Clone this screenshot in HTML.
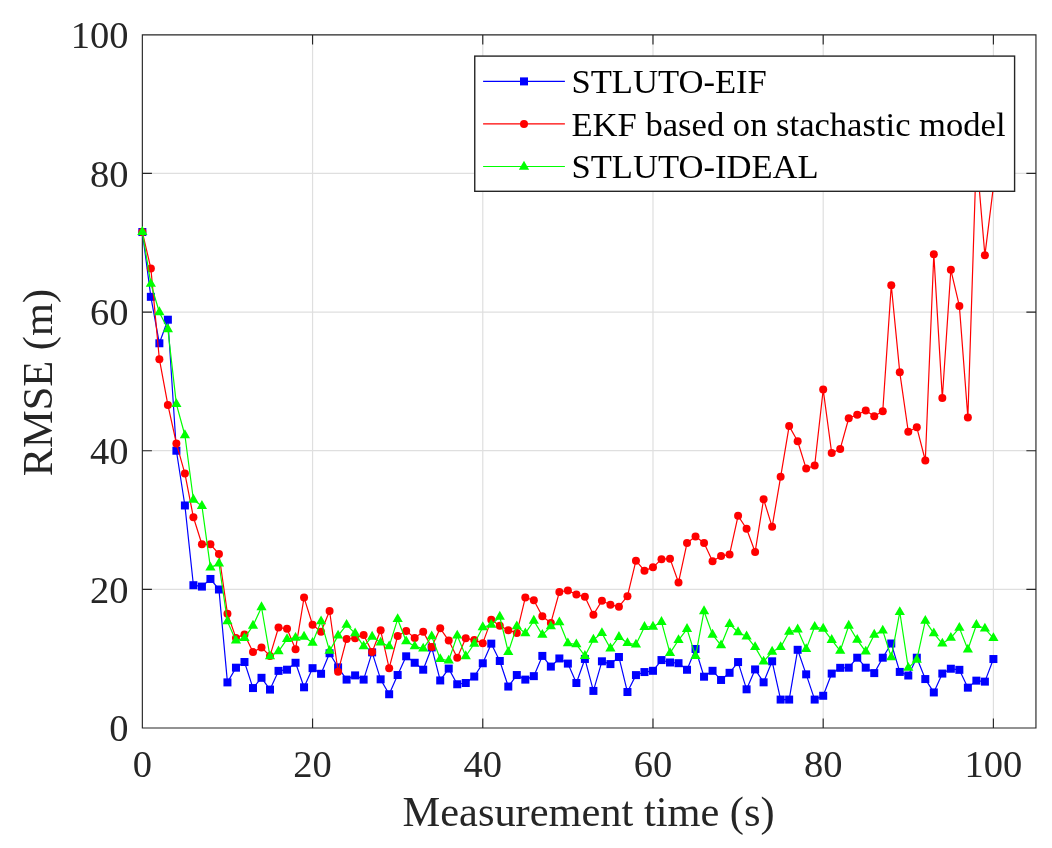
<!DOCTYPE html>
<html><head><meta charset="utf-8"><title>RMSE chart</title>
<style>html,body{margin:0;padding:0;background:#fff;}svg{display:block;will-change:transform;}text{font-family:"Liberation Serif",serif;}</style>
</head><body>
<svg width="1052" height="848" viewBox="0 0 1052 848">
<defs><clipPath id="cp"><rect x="142.35" y="34.8" width="893.6" height="693.2"/></clipPath></defs>
<rect x="0" y="0" width="1052" height="848" fill="#fff"/><path d="M312.56,34.8V728.0M482.77,34.8V728.0M652.98,34.8V728.0M823.19,34.8V728.0M993.40,34.8V728.0M142.35,589.36H1035.95M142.35,450.72H1035.95M142.35,312.08H1035.95M142.35,173.44H1035.95" stroke="#dfdfdf" stroke-width="1.2" fill="none"/><path d="M142.35,34.8H1035.95V728.0H142.35ZM142.35,728.0v-9.0M142.35,34.8v9.0M312.56,728.0v-9.0M312.56,34.8v9.0M482.77,728.0v-9.0M482.77,34.8v9.0M652.98,728.0v-9.0M652.98,34.8v9.0M823.19,728.0v-9.0M823.19,34.8v9.0M993.40,728.0v-9.0M993.40,34.8v9.0M142.35,728.00h9.0M1035.95,728.00h-9.0M142.35,589.36h9.0M1035.95,589.36h-9.0M142.35,450.72h9.0M1035.95,450.72h-9.0M142.35,312.08h9.0M1035.95,312.08h-9.0M142.35,173.44h9.0M1035.95,173.44h-9.0M142.35,34.80h9.0M1035.95,34.80h-9.0" stroke="#262626" stroke-width="1.15" fill="none" stroke-linecap="square"/><g><polyline points="142.35,232.02 150.86,296.83 159.37,343.27 167.88,319.71 176.39,450.72 184.90,505.48 193.41,585.20 201.92,586.59 210.43,578.96 218.94,589.50 227.45,682.39 235.97,667.69 244.48,662.01 252.99,688.07 261.50,677.81 270.01,689.60 278.52,670.88 287.03,669.70 295.54,662.77 304.05,687.31 312.56,668.18 321.07,673.79 329.58,653.27 338.09,667.35 346.60,679.61 355.11,675.39 363.62,679.61 372.13,652.37 380.64,679.34 389.15,694.24 397.66,675.04 406.17,656.32 414.69,662.77 423.20,669.70 431.71,647.45 440.22,680.45 448.73,668.59 457.24,684.26 465.75,683.01 474.26,676.56 482.77,663.26 491.28,643.64 499.79,660.97 508.30,686.55 516.81,675.04 525.32,679.61 533.83,676.15 542.34,655.91 550.85,666.58 559.36,658.47 567.87,663.60 576.38,683.01 584.89,658.96 593.41,690.91 601.92,661.31 610.43,664.09 618.94,657.02 627.45,692.02 635.96,675.11 644.47,672.06 652.98,670.81 661.49,660.07 670.00,662.49 678.51,663.19 687.02,669.77 695.53,648.98 704.04,676.70 712.55,670.81 721.06,679.96 729.57,672.82 738.08,662.08 746.59,689.32 755.10,669.42 763.61,682.32 772.13,661.31 780.64,699.58 789.15,699.58 797.66,649.81 806.17,674.35 814.68,699.58 823.19,695.77 831.70,673.58 840.21,667.83 848.72,667.69 857.23,657.71 865.74,667.69 874.25,673.10 882.76,657.71 891.27,643.50 899.78,671.92 908.29,675.52 916.80,657.71 925.31,679.06 933.82,692.44 942.33,673.58 950.85,668.73 959.36,669.84 967.87,687.66 976.38,680.65 984.89,681.62 993.40,659.03" fill="none" stroke="#0000ff" stroke-width="1.2" stroke-linejoin="round"/><g fill="#0000ff"><rect x="138.35" y="228.02" width="8.0" height="8.0"/><rect x="146.86" y="292.83" width="8.0" height="8.0"/><rect x="155.37" y="339.27" width="8.0" height="8.0"/><rect x="163.88" y="315.71" width="8.0" height="8.0"/><rect x="172.39" y="446.72" width="8.0" height="8.0"/><rect x="180.90" y="501.48" width="8.0" height="8.0"/><rect x="189.41" y="581.20" width="8.0" height="8.0"/><rect x="197.92" y="582.59" width="8.0" height="8.0"/><rect x="206.43" y="574.96" width="8.0" height="8.0"/><rect x="214.94" y="585.50" width="8.0" height="8.0"/><rect x="223.45" y="678.39" width="8.0" height="8.0"/><rect x="231.97" y="663.69" width="8.0" height="8.0"/><rect x="240.48" y="658.01" width="8.0" height="8.0"/><rect x="248.99" y="684.07" width="8.0" height="8.0"/><rect x="257.50" y="673.81" width="8.0" height="8.0"/><rect x="266.01" y="685.60" width="8.0" height="8.0"/><rect x="274.52" y="666.88" width="8.0" height="8.0"/><rect x="283.03" y="665.70" width="8.0" height="8.0"/><rect x="291.54" y="658.77" width="8.0" height="8.0"/><rect x="300.05" y="683.31" width="8.0" height="8.0"/><rect x="308.56" y="664.18" width="8.0" height="8.0"/><rect x="317.07" y="669.79" width="8.0" height="8.0"/><rect x="325.58" y="649.27" width="8.0" height="8.0"/><rect x="334.09" y="663.35" width="8.0" height="8.0"/><rect x="342.60" y="675.61" width="8.0" height="8.0"/><rect x="351.11" y="671.39" width="8.0" height="8.0"/><rect x="359.62" y="675.61" width="8.0" height="8.0"/><rect x="368.13" y="648.37" width="8.0" height="8.0"/><rect x="376.64" y="675.34" width="8.0" height="8.0"/><rect x="385.15" y="690.24" width="8.0" height="8.0"/><rect x="393.66" y="671.04" width="8.0" height="8.0"/><rect x="402.17" y="652.32" width="8.0" height="8.0"/><rect x="410.69" y="658.77" width="8.0" height="8.0"/><rect x="419.20" y="665.70" width="8.0" height="8.0"/><rect x="427.71" y="643.45" width="8.0" height="8.0"/><rect x="436.22" y="676.45" width="8.0" height="8.0"/><rect x="444.73" y="664.59" width="8.0" height="8.0"/><rect x="453.24" y="680.26" width="8.0" height="8.0"/><rect x="461.75" y="679.01" width="8.0" height="8.0"/><rect x="470.26" y="672.56" width="8.0" height="8.0"/><rect x="478.77" y="659.26" width="8.0" height="8.0"/><rect x="487.28" y="639.64" width="8.0" height="8.0"/><rect x="495.79" y="656.97" width="8.0" height="8.0"/><rect x="504.30" y="682.55" width="8.0" height="8.0"/><rect x="512.81" y="671.04" width="8.0" height="8.0"/><rect x="521.32" y="675.61" width="8.0" height="8.0"/><rect x="529.83" y="672.15" width="8.0" height="8.0"/><rect x="538.34" y="651.91" width="8.0" height="8.0"/><rect x="546.85" y="662.58" width="8.0" height="8.0"/><rect x="555.36" y="654.47" width="8.0" height="8.0"/><rect x="563.87" y="659.60" width="8.0" height="8.0"/><rect x="572.38" y="679.01" width="8.0" height="8.0"/><rect x="580.89" y="654.96" width="8.0" height="8.0"/><rect x="589.41" y="686.91" width="8.0" height="8.0"/><rect x="597.92" y="657.31" width="8.0" height="8.0"/><rect x="606.43" y="660.09" width="8.0" height="8.0"/><rect x="614.94" y="653.02" width="8.0" height="8.0"/><rect x="623.45" y="688.02" width="8.0" height="8.0"/><rect x="631.96" y="671.11" width="8.0" height="8.0"/><rect x="640.47" y="668.06" width="8.0" height="8.0"/><rect x="648.98" y="666.81" width="8.0" height="8.0"/><rect x="657.49" y="656.07" width="8.0" height="8.0"/><rect x="666.00" y="658.49" width="8.0" height="8.0"/><rect x="674.51" y="659.19" width="8.0" height="8.0"/><rect x="683.02" y="665.77" width="8.0" height="8.0"/><rect x="691.53" y="644.98" width="8.0" height="8.0"/><rect x="700.04" y="672.70" width="8.0" height="8.0"/><rect x="708.55" y="666.81" width="8.0" height="8.0"/><rect x="717.06" y="675.96" width="8.0" height="8.0"/><rect x="725.57" y="668.82" width="8.0" height="8.0"/><rect x="734.08" y="658.08" width="8.0" height="8.0"/><rect x="742.59" y="685.32" width="8.0" height="8.0"/><rect x="751.10" y="665.42" width="8.0" height="8.0"/><rect x="759.61" y="678.32" width="8.0" height="8.0"/><rect x="768.13" y="657.31" width="8.0" height="8.0"/><rect x="776.64" y="695.58" width="8.0" height="8.0"/><rect x="785.15" y="695.58" width="8.0" height="8.0"/><rect x="793.66" y="645.81" width="8.0" height="8.0"/><rect x="802.17" y="670.35" width="8.0" height="8.0"/><rect x="810.68" y="695.58" width="8.0" height="8.0"/><rect x="819.19" y="691.77" width="8.0" height="8.0"/><rect x="827.70" y="669.58" width="8.0" height="8.0"/><rect x="836.21" y="663.83" width="8.0" height="8.0"/><rect x="844.72" y="663.69" width="8.0" height="8.0"/><rect x="853.23" y="653.71" width="8.0" height="8.0"/><rect x="861.74" y="663.69" width="8.0" height="8.0"/><rect x="870.25" y="669.10" width="8.0" height="8.0"/><rect x="878.76" y="653.71" width="8.0" height="8.0"/><rect x="887.27" y="639.50" width="8.0" height="8.0"/><rect x="895.78" y="667.92" width="8.0" height="8.0"/><rect x="904.29" y="671.52" width="8.0" height="8.0"/><rect x="912.80" y="653.71" width="8.0" height="8.0"/><rect x="921.31" y="675.06" width="8.0" height="8.0"/><rect x="929.82" y="688.44" width="8.0" height="8.0"/><rect x="938.33" y="669.58" width="8.0" height="8.0"/><rect x="946.85" y="664.73" width="8.0" height="8.0"/><rect x="955.36" y="665.84" width="8.0" height="8.0"/><rect x="963.87" y="683.66" width="8.0" height="8.0"/><rect x="972.38" y="676.65" width="8.0" height="8.0"/><rect x="980.89" y="677.62" width="8.0" height="8.0"/><rect x="989.40" y="655.03" width="8.0" height="8.0"/></g><polyline points="142.35,232.02 150.86,268.41 159.37,359.22 167.88,404.97 176.39,443.44 184.90,473.60 193.41,517.27 201.92,544.30 210.43,544.30 218.94,554.01 227.45,613.69 235.97,637.88 244.48,634.42 252.99,652.09 261.50,647.52 270.01,655.91 278.52,627.49 287.03,628.80 295.54,649.32 304.05,597.61 312.56,624.78 321.07,631.78 329.58,610.99 338.09,671.71 346.60,638.99 355.11,638.30 363.62,634.90 372.13,652.09 380.64,630.26 389.15,668.18 397.66,636.01 406.17,630.95 414.69,637.88 423.20,631.85 431.71,647.10 440.22,628.32 448.73,640.59 457.24,657.85 465.75,638.30 474.26,640.10 482.77,643.15 491.28,619.86 499.79,625.68 508.30,630.26 516.81,632.89 525.32,597.61 533.83,600.24 542.34,616.33 550.85,622.91 559.36,591.99 567.87,590.40 576.38,594.56 584.89,596.85 593.41,614.66 601.92,600.80 610.43,604.82 618.94,606.69 627.45,596.22 635.96,560.66 644.47,570.64 652.98,567.32 661.49,559.14 670.00,558.65 678.51,582.43 687.02,543.05 695.53,536.47 704.04,542.98 712.55,561.22 721.06,556.09 729.57,554.42 738.08,515.81 746.59,528.71 755.10,552.07 763.61,499.24 772.13,526.83 780.64,476.85 789.15,426.11 797.66,441.22 806.17,468.60 814.68,465.49 823.19,389.58 831.70,453.01 840.21,448.92 848.72,418.28 857.23,414.67 865.74,410.51 874.25,416.13 882.76,411.28 891.27,285.25 899.78,372.32 908.29,431.73 916.80,427.29 925.31,460.49 933.82,254.34 942.33,398.04 950.85,269.86 959.36,305.91 967.87,417.52 976.38,154.38 984.89,255.31 993.40,186.61" fill="none" stroke="#ff0000" stroke-width="1.2" stroke-linejoin="round"/><g fill="#ff0000"><circle cx="142.35" cy="232.02" r="4.0"/><circle cx="150.86" cy="268.41" r="4.0"/><circle cx="159.37" cy="359.22" r="4.0"/><circle cx="167.88" cy="404.97" r="4.0"/><circle cx="176.39" cy="443.44" r="4.0"/><circle cx="184.90" cy="473.60" r="4.0"/><circle cx="193.41" cy="517.27" r="4.0"/><circle cx="201.92" cy="544.30" r="4.0"/><circle cx="210.43" cy="544.30" r="4.0"/><circle cx="218.94" cy="554.01" r="4.0"/><circle cx="227.45" cy="613.69" r="4.0"/><circle cx="235.97" cy="637.88" r="4.0"/><circle cx="244.48" cy="634.42" r="4.0"/><circle cx="252.99" cy="652.09" r="4.0"/><circle cx="261.50" cy="647.52" r="4.0"/><circle cx="270.01" cy="655.91" r="4.0"/><circle cx="278.52" cy="627.49" r="4.0"/><circle cx="287.03" cy="628.80" r="4.0"/><circle cx="295.54" cy="649.32" r="4.0"/><circle cx="304.05" cy="597.61" r="4.0"/><circle cx="312.56" cy="624.78" r="4.0"/><circle cx="321.07" cy="631.78" r="4.0"/><circle cx="329.58" cy="610.99" r="4.0"/><circle cx="338.09" cy="671.71" r="4.0"/><circle cx="346.60" cy="638.99" r="4.0"/><circle cx="355.11" cy="638.30" r="4.0"/><circle cx="363.62" cy="634.90" r="4.0"/><circle cx="372.13" cy="652.09" r="4.0"/><circle cx="380.64" cy="630.26" r="4.0"/><circle cx="389.15" cy="668.18" r="4.0"/><circle cx="397.66" cy="636.01" r="4.0"/><circle cx="406.17" cy="630.95" r="4.0"/><circle cx="414.69" cy="637.88" r="4.0"/><circle cx="423.20" cy="631.85" r="4.0"/><circle cx="431.71" cy="647.10" r="4.0"/><circle cx="440.22" cy="628.32" r="4.0"/><circle cx="448.73" cy="640.59" r="4.0"/><circle cx="457.24" cy="657.85" r="4.0"/><circle cx="465.75" cy="638.30" r="4.0"/><circle cx="474.26" cy="640.10" r="4.0"/><circle cx="482.77" cy="643.15" r="4.0"/><circle cx="491.28" cy="619.86" r="4.0"/><circle cx="499.79" cy="625.68" r="4.0"/><circle cx="508.30" cy="630.26" r="4.0"/><circle cx="516.81" cy="632.89" r="4.0"/><circle cx="525.32" cy="597.61" r="4.0"/><circle cx="533.83" cy="600.24" r="4.0"/><circle cx="542.34" cy="616.33" r="4.0"/><circle cx="550.85" cy="622.91" r="4.0"/><circle cx="559.36" cy="591.99" r="4.0"/><circle cx="567.87" cy="590.40" r="4.0"/><circle cx="576.38" cy="594.56" r="4.0"/><circle cx="584.89" cy="596.85" r="4.0"/><circle cx="593.41" cy="614.66" r="4.0"/><circle cx="601.92" cy="600.80" r="4.0"/><circle cx="610.43" cy="604.82" r="4.0"/><circle cx="618.94" cy="606.69" r="4.0"/><circle cx="627.45" cy="596.22" r="4.0"/><circle cx="635.96" cy="560.66" r="4.0"/><circle cx="644.47" cy="570.64" r="4.0"/><circle cx="652.98" cy="567.32" r="4.0"/><circle cx="661.49" cy="559.14" r="4.0"/><circle cx="670.00" cy="558.65" r="4.0"/><circle cx="678.51" cy="582.43" r="4.0"/><circle cx="687.02" cy="543.05" r="4.0"/><circle cx="695.53" cy="536.47" r="4.0"/><circle cx="704.04" cy="542.98" r="4.0"/><circle cx="712.55" cy="561.22" r="4.0"/><circle cx="721.06" cy="556.09" r="4.0"/><circle cx="729.57" cy="554.42" r="4.0"/><circle cx="738.08" cy="515.81" r="4.0"/><circle cx="746.59" cy="528.71" r="4.0"/><circle cx="755.10" cy="552.07" r="4.0"/><circle cx="763.61" cy="499.24" r="4.0"/><circle cx="772.13" cy="526.83" r="4.0"/><circle cx="780.64" cy="476.85" r="4.0"/><circle cx="789.15" cy="426.11" r="4.0"/><circle cx="797.66" cy="441.22" r="4.0"/><circle cx="806.17" cy="468.60" r="4.0"/><circle cx="814.68" cy="465.49" r="4.0"/><circle cx="823.19" cy="389.58" r="4.0"/><circle cx="831.70" cy="453.01" r="4.0"/><circle cx="840.21" cy="448.92" r="4.0"/><circle cx="848.72" cy="418.28" r="4.0"/><circle cx="857.23" cy="414.67" r="4.0"/><circle cx="865.74" cy="410.51" r="4.0"/><circle cx="874.25" cy="416.13" r="4.0"/><circle cx="882.76" cy="411.28" r="4.0"/><circle cx="891.27" cy="285.25" r="4.0"/><circle cx="899.78" cy="372.32" r="4.0"/><circle cx="908.29" cy="431.73" r="4.0"/><circle cx="916.80" cy="427.29" r="4.0"/><circle cx="925.31" cy="460.49" r="4.0"/><circle cx="933.82" cy="254.34" r="4.0"/><circle cx="942.33" cy="398.04" r="4.0"/><circle cx="950.85" cy="269.86" r="4.0"/><circle cx="959.36" cy="305.91" r="4.0"/><circle cx="967.87" cy="417.52" r="4.0"/><circle cx="976.38" cy="154.38" r="4.0"/><circle cx="984.89" cy="255.31" r="4.0"/><circle cx="993.40" cy="186.61" r="4.0"/></g><polyline points="142.35,232.02 150.86,283.80 159.37,312.22 167.88,329.20 176.39,404.07 184.90,435.26 193.41,499.73 201.92,505.97 210.43,567.66 218.94,563.50 227.45,621.39 235.97,640.66 244.48,638.16 252.99,625.68 261.50,607.24 270.01,656.32 278.52,651.40 287.03,639.06 295.54,637.88 304.05,636.71 312.56,642.81 321.07,621.39 329.58,650.92 338.09,635.60 346.60,624.85 355.11,633.31 363.62,646.34 372.13,636.71 380.64,642.53 389.15,646.34 397.66,619.17 406.17,641.28 414.69,646.34 423.20,648.63 431.71,636.36 440.22,659.03 448.73,660.55 457.24,635.60 465.75,656.25 474.26,643.71 482.77,627.21 491.28,624.85 499.79,616.74 508.30,652.03 516.81,626.38 525.32,633.31 533.83,620.76 542.34,634.90 550.85,626.38 559.36,622.29 567.87,643.29 576.38,644.33 584.89,655.98 593.41,639.76 601.92,633.10 610.43,648.49 618.94,636.98 627.45,643.08 635.96,644.61 644.47,627.00 652.98,626.72 661.49,621.94 670.00,653.07 678.51,640.03 687.02,629.01 695.53,656.12 704.04,611.20 712.55,634.70 721.06,645.30 729.57,624.16 738.08,632.27 746.59,636.43 755.10,647.17 763.61,661.66 772.13,651.75 780.64,647.17 789.15,631.78 797.66,629.50 806.17,649.11 814.68,626.79 823.19,628.73 831.70,639.96 840.21,650.92 848.72,625.75 857.23,639.82 865.74,651.61 874.25,634.70 882.76,630.61 891.27,657.29 899.78,612.03 908.29,667.83 916.80,659.72 925.31,620.90 933.82,633.38 942.33,643.57 950.85,637.88 959.36,627.90 967.87,649.53 976.38,624.99 984.89,628.53 993.40,638.16" fill="none" stroke="#00ff00" stroke-width="1.2" stroke-linejoin="round"/><g fill="#00ff00"><path d="M142.35,226.12L137.24,234.97L147.46,234.97ZM150.86,277.90L145.75,286.75L155.97,286.75ZM159.37,306.32L154.26,315.17L164.48,315.17ZM167.88,323.30L162.77,332.15L172.99,332.15ZM176.39,398.17L171.28,407.02L181.50,407.02ZM184.90,429.36L179.79,438.21L190.01,438.21ZM193.41,493.83L188.30,502.68L198.52,502.68ZM201.92,500.07L196.81,508.92L207.03,508.92ZM210.43,561.76L205.32,570.61L215.54,570.61ZM218.94,557.60L213.83,566.45L224.05,566.45ZM227.45,615.49L222.35,624.34L232.56,624.34ZM235.97,634.76L230.86,643.61L241.07,643.61ZM244.48,632.26L239.37,641.11L249.59,641.11ZM252.99,619.78L247.88,628.63L258.10,628.63ZM261.50,601.34L256.39,610.19L266.61,610.19ZM270.01,650.42L264.90,659.27L275.12,659.27ZM278.52,645.50L273.41,654.35L283.63,654.35ZM287.03,633.16L281.92,642.01L292.14,642.01ZM295.54,631.98L290.43,640.83L300.65,640.83ZM304.05,630.81L298.94,639.66L309.16,639.66ZM312.56,636.91L307.45,645.76L317.67,645.76ZM321.07,615.49L315.96,624.34L326.18,624.34ZM329.58,645.02L324.47,653.87L334.69,653.87ZM338.09,629.70L332.98,638.55L343.20,638.55ZM346.60,618.95L341.49,627.80L351.71,627.80ZM355.11,627.41L350.00,636.26L360.22,636.26ZM363.62,640.44L358.51,649.29L368.73,649.29ZM372.13,630.81L367.02,639.66L377.24,639.66ZM380.64,636.63L375.53,645.48L385.75,645.48ZM389.15,640.44L384.04,649.29L394.26,649.29ZM397.66,613.27L392.55,622.12L402.77,622.12ZM406.17,635.38L401.07,644.23L411.28,644.23ZM414.69,640.44L409.58,649.29L419.79,649.29ZM423.20,642.73L418.09,651.58L428.31,651.58ZM431.71,630.46L426.60,639.31L436.82,639.31ZM440.22,653.13L435.11,661.98L445.33,661.98ZM448.73,654.65L443.62,663.50L453.84,663.50ZM457.24,629.70L452.13,638.55L462.35,638.55ZM465.75,650.35L460.64,659.20L470.86,659.20ZM474.26,637.81L469.15,646.66L479.37,646.66ZM482.77,621.31L477.66,630.16L487.88,630.16ZM491.28,618.95L486.17,627.80L496.39,627.80ZM499.79,610.84L494.68,619.69L504.90,619.69ZM508.30,646.13L503.19,654.98L513.41,654.98ZM516.81,620.48L511.70,629.33L521.92,629.33ZM525.32,627.41L520.21,636.26L530.43,636.26ZM533.83,614.86L528.72,623.71L538.94,623.71ZM542.34,629.00L537.23,637.85L547.45,637.85ZM550.85,620.48L545.74,629.33L555.96,629.33ZM559.36,616.39L554.25,625.24L564.47,625.24ZM567.87,637.39L562.76,646.24L572.98,646.24ZM576.38,638.43L571.27,647.28L581.49,647.28ZM584.89,650.08L579.79,658.93L590.00,658.93ZM593.41,633.86L588.30,642.71L598.51,642.71ZM601.92,627.20L596.81,636.05L607.03,636.05ZM610.43,642.59L605.32,651.44L615.54,651.44ZM618.94,631.08L613.83,639.93L624.05,639.93ZM627.45,637.18L622.34,646.03L632.56,646.03ZM635.96,638.71L630.85,647.56L641.07,647.56ZM644.47,621.10L639.36,629.95L649.58,629.95ZM652.98,620.82L647.87,629.67L658.09,629.67ZM661.49,616.04L656.38,624.89L666.60,624.89ZM670.00,647.17L664.89,656.02L675.11,656.02ZM678.51,634.13L673.40,642.98L683.62,642.98ZM687.02,623.11L681.91,631.96L692.13,631.96ZM695.53,650.22L690.42,659.07L700.64,659.07ZM704.04,605.30L698.93,614.15L709.15,614.15ZM712.55,628.80L707.44,637.65L717.66,637.65ZM721.06,639.40L715.95,648.25L726.17,648.25ZM729.57,618.26L724.46,627.11L734.68,627.11ZM738.08,626.37L732.97,635.22L743.19,635.22ZM746.59,630.53L741.48,639.38L751.70,639.38ZM755.10,641.27L749.99,650.12L760.21,650.12ZM763.61,655.76L758.51,664.61L768.72,664.61ZM772.13,645.85L767.02,654.70L777.23,654.70ZM780.64,641.27L775.53,650.12L785.75,650.12ZM789.15,625.88L784.04,634.73L794.26,634.73ZM797.66,623.60L792.55,632.45L802.77,632.45ZM806.17,643.21L801.06,652.06L811.28,652.06ZM814.68,620.89L809.57,629.74L819.79,629.74ZM823.19,622.83L818.08,631.68L828.30,631.68ZM831.70,634.06L826.59,642.91L836.81,642.91ZM840.21,645.02L835.10,653.87L845.32,653.87ZM848.72,619.85L843.61,628.70L853.83,628.70ZM857.23,633.92L852.12,642.77L862.34,642.77ZM865.74,645.71L860.63,654.56L870.85,654.56ZM874.25,628.80L869.14,637.65L879.36,637.65ZM882.76,624.71L877.65,633.56L887.87,633.56ZM891.27,651.39L886.16,660.24L896.38,660.24ZM899.78,606.13L894.67,614.98L904.89,614.98ZM908.29,661.93L903.18,670.78L913.40,670.78ZM916.80,653.82L911.69,662.67L921.91,662.67ZM925.31,615.00L920.20,623.85L930.42,623.85ZM933.82,627.48L928.71,636.33L938.93,636.33ZM942.33,637.67L937.23,646.52L947.44,646.52ZM950.85,631.98L945.74,640.83L955.95,640.83ZM959.36,622.00L954.25,630.85L964.47,630.85ZM967.87,643.63L962.76,652.48L972.98,652.48ZM976.38,619.09L971.27,627.94L981.49,627.94ZM984.89,622.63L979.78,631.48L990.00,631.48ZM993.40,632.26L988.29,641.11L998.51,641.11Z"/></g></g><g font-size="38.5" fill="#262626"><text x="142.35" y="776.5" text-anchor="middle">0</text><text x="312.56" y="776.5" text-anchor="middle">20</text><text x="482.77" y="776.5" text-anchor="middle">40</text><text x="652.98" y="776.5" text-anchor="middle">60</text><text x="823.19" y="776.5" text-anchor="middle">80</text><text x="993.40" y="776.5" text-anchor="middle">100</text><text x="128.5" y="741.20" text-anchor="end">0</text><text x="128.5" y="602.56" text-anchor="end">20</text><text x="128.5" y="463.92" text-anchor="end">40</text><text x="128.5" y="325.28" text-anchor="end">60</text><text x="128.5" y="186.64" text-anchor="end">80</text><text x="128.5" y="48.00" text-anchor="end">100</text></g><text x="588.6" y="825.8" text-anchor="middle" font-size="42.4" fill="#262626">Measurement time (s)</text><text transform="translate(51.8,382.6) rotate(-90)" x="0" y="0" text-anchor="middle" font-size="42.4" fill="#262626">RMSE (m)</text><rect x="474.75" y="56.1" width="539.85" height="135.20" fill="#fff" stroke="#262626" stroke-width="1.4"/><path d="M483.1,81.4H564.9" stroke="#0000ff" stroke-width="1.2"/><rect x="520.0" y="77.4" width="8.0" height="8.0" fill="#0000ff"/><text x="571.5" y="92.8" font-size="34.6" fill="#000">STLUTO-EIF</text><path d="M483.1,123.9H564.9" stroke="#ff0000" stroke-width="1.2"/><circle cx="524" cy="123.9" r="4.0" fill="#ff0000"/><text x="571.5" y="135.5" font-size="34.6" fill="#000">EKF based on stachastic model</text><path d="M483.1,166.5H564.9" stroke="#00ff00" stroke-width="1.2"/><path d="M524.00,160.80L518.89,169.65L529.11,169.65Z" fill="#00ff00"/><text x="571.5" y="178.0" font-size="34.6" fill="#000">STLUTO-IDEAL</text>
</svg>
</body></html>
